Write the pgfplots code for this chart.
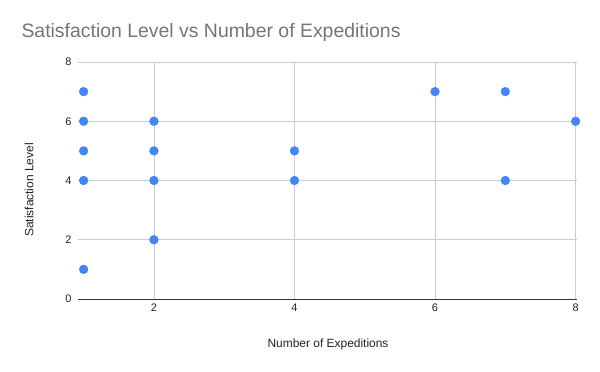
\documentclass[border=0pt]{standalone}
\usepackage{pgfplots}
\pgfplotsset{compat=1.18}
\usepackage{fontspec}
\setmainfont{Liberation Sans}
\definecolor{ptblue}{HTML}{4285F4}
\definecolor{gridgray}{HTML}{CCCCCC}
\definecolor{titlegray}{HTML}{757575}
\definecolor{ticktext}{HTML}{222222}
\begin{document}
\begin{tikzpicture}[x=1bp,y=1bp]
\path[use as bounding box] (0,0) rectangle (600,371);
\node[anchor=west,text=titlegray,font=\fontsize{19.5}{22}\selectfont] at (18,339) {Satisfaction Level vs Number of Expeditions};
\begin{axis}[
  at={(78bp,72bp)}, anchor=south west,
  scale only axis, width=499bp, height=237bp,
  xmin=0.92, xmax=8.02, ymin=0, ymax=8,
  xtick={2,4,6,8}, ytick={0,2,4,6,8},
  grid=major, major grid style={gridgray, line width=0.8pt},
  axis x line*=bottom, axis y line*=left,
  x axis line style={draw=black!80, line width=1pt, -},
  y axis line style={draw=none},
  tick style={draw=none},
  ticklabel style={font=\fontsize{11}{13}\selectfont, text=ticktext},
  /pgf/number format/assume math mode=true,
  xticklabel style={yshift=-1bp},
  yticklabel style={xshift=-3bp},
  clip=false,
]
\addplot[only marks, mark=*, mark size=4.4bp, mark options={draw=ptblue, fill=ptblue}, color=ptblue]
coordinates {
(1,7) (1,6) (1,5) (1,4) (1,1)
(2,6) (2,5) (2,4) (2,2)
(4,5) (4,4)
(6,7) (7,7) (7,4) (8,6)
};
\end{axis}
\node[font=\fontsize{12}{14}\selectfont, text=ticktext] at (328,27) {Number of Expeditions};
\node[rotate=90, font=\fontsize{12}{14}\selectfont, text=ticktext] at (29,181) {Satisfaction Level};
\end{tikzpicture}
\end{document}
